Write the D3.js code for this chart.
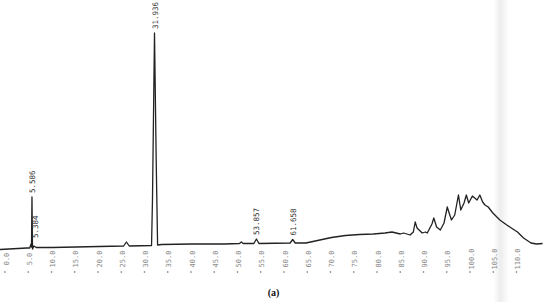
<!doctype html>
<html>
<head>
  <meta charset="utf-8">
  <title>Chromatogram (a)</title>
  <style>
    body { margin: 0; background: #fff; }
    svg { display: block; }
  </style>
</head>
<body>
  <svg id="chart" width="550" height="302"></svg>

  <script src="https://d3js.org/d3.v7.min.js"></script>
  <script>
    // retention time (min) and detector signal
    var traceTime = [-1.3, 4.5, 5.1, 5.384, 5.48, 5.586, 5.7, 6.0, 6.5, 10, 20, 25.3, 25.9, 26.5,
      31.3, 31.5, 31.936, 32.3, 32.6, 33.5, 40, 47, 50.2, 50.6, 51, 53.3, 53.857, 54.4,
      61.1, 61.658, 62.2, 64.5, 67, 70, 73, 76, 79, 81.5, 83, 84.8, 85.5, 86.9, 87.6, 88.0,
      88.4, 89.5, 90.2, 90.6, 91.6, 92.0, 92.6, 93.4, 94.2, 94.9, 95.3, 95.8, 96.5, 97.3,
      97.8, 98.5, 99.0, 99.5, 100.3, 100.8, 101.3, 101.9, 102.5, 103.0, 103.7, 104.7,
      106.2, 107.7, 109.0, 110.0, 111.3, 112.9, 114.1, 115.4];
    var traceSignal = [0.5, 2, 2, 6, 3, 53, 1, 4, 2.5, 2.5, 3.5, 4, 8, 4,
      4.5, 50, 217, 90, 5, 5.5, 6, 6, 6.5, 8, 6.5, 6.5, 11, 6.5,
      7, 10.5, 7, 7, 9.5, 12.5, 14.5, 15.5, 16, 17, 18, 16, 17, 15, 18, 28,
      22, 17, 18, 17, 26, 32, 23, 20, 27, 43, 37, 30, 35, 55,
      40, 47, 55, 47, 54, 52, 50, 55, 48, 45, 43, 37,
      30, 25, 21, 18, 12, 7, 6, 6.5];

    // labelled peaks
    var peakTimes = [5.384, 5.586, 31.936, 53.857, 61.658];
    var peakLabels = ["5.384", "5.586", "31.936", "53.857", "61.658"];
    var peakLabelBase = [6, 53, 217, 11, 10.5];

    var tickValues = d3.range(0, 111, 5);

    var svg = d3.select('#chart');

    var x = d3.scaleLinear().domain([0, 110]).range([6, 517.5]);
    var y = d3.scaleLinear().domain([0, 220]).range([250, 30]);

    // scanner shading band
    var grad = svg.append('defs').append('linearGradient').attr('id', 'band');
    grad.append('stop').attr('offset', '0%').attr('stop-color', '#fff');
    grad.append('stop').attr('offset', '45%').attr('stop-color', '#ededed');
    grad.append('stop').attr('offset', '100%').attr('stop-color', '#fff');
    svg.append('rect')
      .attr('x', x(106.5) - 8).attr('y', 0)
      .attr('width', 16).attr('height', 302)
      .attr('fill', 'url(#band)');

    // tick labels + dots
    var ticks = svg.append('g').attr('class', 'ticks');
    ticks.selectAll('text')
      .data(tickValues)
      .enter()
      .append('text')
      .attr('transform', function(d) { return 'translate(' + (x(d) + 2.5) + ',259) rotate(-90)'; })
      .attr('text-anchor', 'middle')
      .attr('font-family', 'DejaVu Sans Mono, monospace')
      .attr('font-size', 7)
      .attr('fill', '#888')
      .text(function(d) { return d.toFixed(1); });
    ticks.selectAll('circle')
      .data(tickValues)
      .enter()
      .append('circle')
      .attr('cx', function(d) { return x(d) - 1; })
      .attr('cy', 272)
      .attr('r', 0.8)
      .attr('fill', '#666');

    // trace
    var pts = traceTime.map(function(t, i) { return [t, traceSignal[i]]; });
    var line = d3.line()
      .x(function(d) { return x(d[0]); })
      .y(function(d) { return y(d[1]); });
    svg.append('path')
      .datum(pts)
      .attr('d', line)
      .attr('fill', 'none')
      .attr('stroke', '#222')
      .attr('stroke-width', 1.3)
      .attr('stroke-linejoin', 'round');

    // peak labels
    svg.append('g').selectAll('text')
      .data(peakLabels)
      .enter()
      .append('text')
      .attr('transform', function(d, i) {
        var px = x(peakTimes[i]) + 3;
        var py = y(peakLabelBase[i]) - 4;
        if (i == 0) { px += 3.5; py -= 2; }
        return 'translate(' + px + ',' + py + ') rotate(-90)';
      })
      .attr('font-family', 'DejaVu Sans Mono, monospace')
      .attr('font-size', 7.5)
      .attr('fill', '#333')
      .text(function(d) { return d; });

    // caption
    svg.append('text')
      .attr('x', 273.5).attr('y', 296)
      .attr('text-anchor', 'middle')
      .attr('font-family', 'Liberation Serif, serif')
      .attr('font-weight', 'bold')
      .attr('font-size', 10)
      .attr('fill', '#111')
      .text('(a)');
  </script>
</body>
</html>
